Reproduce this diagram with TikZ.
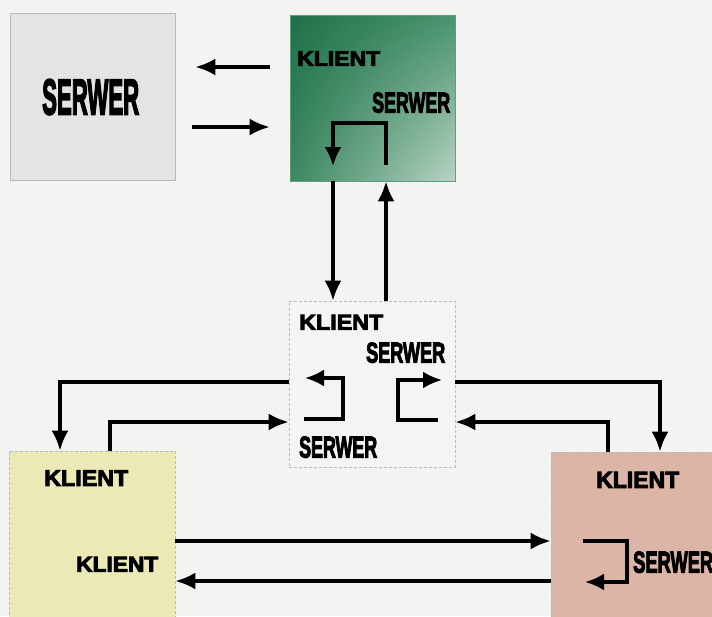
\documentclass[tikz,border=0pt]{standalone}
\usepackage{fontspec}
\usepackage{graphicx}
\setmainfont{Liberation Sans}[BoldFeatures={FakeBold=4}]
\usetikzlibrary{arrows.meta, shadings}

\definecolor{paper}{HTML}{F3F3F1}
\definecolor{greyfill}{HTML}{E4E5E3}
\definecolor{midfill}{HTML}{F4F4F2}
\definecolor{yelfill}{HTML}{EBE9B5}
\definecolor{pinkfill}{HTML}{DCB5A6}
\definecolor{gdark}{HTML}{1F7048}
\definecolor{gmidA}{HTML}{4A9470}
\definecolor{gmidB}{HTML}{3A8862}
\definecolor{glight}{HTML}{B9D3C4}

% napis o zadanej szerokosci i wysokosci
\newcommand{\sizedlabel}[3]{\resizebox{#1}{#2}{\bfseries #3}}

\begin{document}
\begin{tikzpicture}[x=1pt, y=-1pt]
    % --- style ---
    \tikzstyle{box}=[draw=gray!55, line width=0.6pt, inner sep=0pt]
    \tikzstyle{dbox}=[box, densely dashed]
    \tikzstyle{lbl}=[anchor=south west, inner sep=0pt]
    \tikzstyle{arr}=[-{Latex[length=20pt, width=17pt]}, line width=3.6pt, black]
    \tikzstyle{selfarr}=[-{Latex[length=19pt, width=17pt]}, line width=3.2pt, black]

    % 0. tlo
    \clip (0,0) rectangle (712,616);
    \fill[paper] (0,0) rectangle (712,616);

    % 1. bloki
    \node[box, fill=greyfill, minimum width=165pt, minimum height=167pt] (srv) at (92.5,96.5) {};
    \node[box, draw=gdark!70, upper left=gdark, upper right=gmidA,
          lower left=gmidB, lower right=glight,
          minimum width=165pt, minimum height=166pt] (green) at (372.5,98) {};
    \node[dbox, fill=midfill, minimum width=166pt, minimum height=166pt] (mid) at (372,384) {};
    \node[dbox, fill=yelfill, minimum width=166pt, minimum height=172pt] (yel) at (92,537) {};
    \node[dbox, fill=pinkfill, minimum width=168pt, minimum height=172pt] (pink) at (635,538) {};

    % 2. napisy
    \node[lbl] (srvT) at (42,115) {\sizedlabel{97pt}{35pt}{SERWER}};
    \node[lbl] (gK) at (297,66) {\sizedlabel{83pt}{14.5pt}{KLIENT}};
    \node[lbl] (gS) at (372,113) {\sizedlabel{78pt}{20pt}{SERWER}};
    \node[lbl] (mK) at (299,330) {\sizedlabel{84pt}{15pt}{KLIENT}};
    \node[lbl] (mS1) at (366,363) {\sizedlabel{79pt}{20pt}{SERWER}};
    \node[lbl] (mS2) at (299,458) {\sizedlabel{78pt}{21pt}{SERWER}};
    \node[lbl] (yK1) at (44,486) {\sizedlabel{84pt}{15.5pt}{KLIENT}};
    \node[lbl] (yK2) at (76,572) {\sizedlabel{82pt}{15pt}{KLIENT}};
    \node[lbl] (pK) at (596,488) {\sizedlabel{83pt}{16pt}{KLIENT}};
    \node[lbl] (pS) at (633,573) {\sizedlabel{80pt}{21pt}{SERWER}};

    % 3. punkty petli wewnatrz blokow
    \coordinate (g1) at (386,165);
    \coordinate (g2) at (333,123);
    \coordinate (g3) at (333,166);
    \coordinate (ml1) at (304,419);
    \coordinate (ml2) at (343,378);
    \coordinate (ml3) at (305,378);
    \coordinate (mr1) at (438,420);
    \coordinate (mr2) at (398,380);
    \coordinate (mr3) at (442,380);
    \coordinate (pr1) at (583,541);
    \coordinate (pr2) at (627,582);
    \coordinate (pr3) at (585,582);

    % 4. petle
    \draw[selfarr] (g1) |- (g2) -- (g3);
    \draw[selfarr] (ml1) -| (ml2) -- (ml3);
    \draw[selfarr] (mr1) -| (mr2) -- (mr3);
    \draw[selfarr] (pr1) -| (pr2) -- (pr3);

    % 5. polaczenia miedzy blokami
    \draw[arr, shorten <=20pt, shorten >=20pt] (green.west |- 0,67) -- (srv.east |- 0,67);
    \draw[arr, shorten <=17pt, shorten >=20pt] (srv.east |- 0,127) -- (green.west |- 0,127);
    \draw[arr] (green.south -| g2) -- (mid.north -| g2);
    \draw[arr] (mid.north -| g1) -- (green.south -| g1);

    \draw[arr] (mid.west |- 0,382) -| (yel.north -| 60,0);
    \draw[arr] (yel.north -| 110,0) |- (mid.west |- 0,422);
    \draw[arr] (mid.east |- 0,382) -| (pink.north -| 660,0);
    \draw[arr] (pink.north -| 608,0) |- (mid.east |- 0,422);

    \draw[arr] (yel.east |- 0,541) -- (pink.west |- 0,541);
    \draw[arr] (pink.west |- 0,581) -- (yel.east |- 0,581);
\end{tikzpicture}
\end{document}
